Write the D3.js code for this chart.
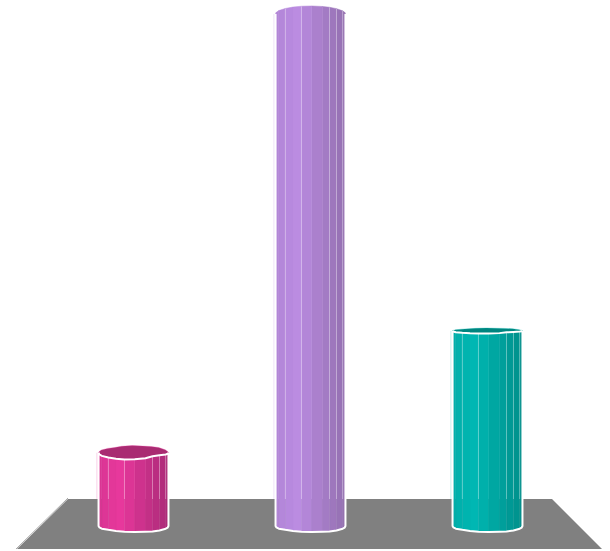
<!DOCTYPE html>
<html>
<head>
<meta charset="utf-8">
<style>
  html, body { margin: 0; padding: 0; background: #fff; }
  svg { display: block; }
</style>
</head>
<body>
<div id="container"></div>
<script src="https://cdn.jsdelivr.net/npm/d3@7"></script>
<script>
const categories = ["A", "B", "C"];
const values = [14.3, 100, 38.1];
const lightColors = ["#e8389c", "#bb8ce2", "#00b8b3"];
const darkColors = ["#ab2a78", "#9470b0", "#008f8b"];
const lidColors = ["#a92b72", "#9470b0", "#00857f"];

const w = 610;
const h = 551;

const xScale = d3.scaleBand().domain(categories).range([45, 576]).paddingInner(0.605).paddingOuter(0.3025);
const yScale = d3.scaleLinear().domain([0, 100]).range([526, 14]);

// facet edges round the front of each column, right to left
const faceAngles = [0, 12, 23, 42, 57, 70, 88, 105, 120, 136, 155, 168, 180];
const topWobble = [0.5, 0.7, 0.6, 0.55, 0.6, 0.85, 0.95, 1, 1, 1, 1.05, 1.1, 1];
const baseWobble = [1, 1.25, 1.15, 1.1, 1.08, 1.02, 1, 0.98, 0.95, 0.92, 1.05, 1.1, 1];
const backWobble = [1, 0.95, 1, 0.95, 0.9, 1, 1.05, 1, 1.05, 1.1, 1.05, 0.95, 1];
const seams = [2, 3, 4, 7, 9];

// perspective: how open a ring looks at a given height on the page
const ringHeight = y => {
  if (y > 500) return 6;
  return (y - 250) * 0.034;
};

const svg = d3.select("#container").append("svg").attr("width", w).attr("height", h);

// floor
const floorTop = 499;
const floorBottom = 549;
svg.append("path").
attr("d", d3.line()([[68, floorTop], [552, floorTop], [602, floorBottom], [17, floorBottom]]) + "Z").
attr("fill", "#808080");
svg.append("line").
attr("x1", 16).attr("y1", floorBottom).attr("x2", 68).attr("y2", floorTop - 1).
attr("stroke", "#aaa").attr("stroke-width", 1);

const line = d3.line();

categories.forEach((cat, i) => {
  const r = xScale.bandwidth() / 2;
  const cx = xScale(cat) + r;
  const topY = yScale(values[i]);
  const baseY = yScale(0);
  const topRy = ringHeight(topY);
  const baseRy = ringHeight(baseY);
  const shade = d3.scaleLinear().
  domain([1, -0.4, -1]).
  range([darkColors[i], lightColors[i], d3.interpolateRgb(lightColors[i], darkColors[i])(0.25)]);

  const g = svg.append("g");
  const point = (a, cy, ry, k) => {
    const rad = a * Math.PI / 180;
    return [cx + r * Math.cos(rad), cy + ry * Math.sin(rad) * k];
  };
  const topFront = faceAngles.map((a, j) => point(a, topY, topRy, topRy > 0 ? topWobble[j] : 1));
  const baseFront = faceAngles.map((a, j) => point(a, baseY, baseRy, baseWobble[j]));
  const topBack = faceAngles.map((a, j) => point(a + 180, topY, topRy, backWobble[j]));

  // faint edge left of the column
  g.append("line").
  attr("x1", cx - r - 1.5).attr("x2", cx - r - 1.5).
  attr("y1", topY).attr("y2", floorTop).
  attr("stroke", lightColors[i]).
  attr("stroke-opacity", 0.3);

  // lid, only seen on columns below eye level
  if (topRy > 0) {
    g.append("path").
    attr("d", line(topFront.concat(topBack)) + "Z").
    attr("fill", lidColors[i]).
    attr("stroke", lightColors[i]).
    attr("stroke-width", 1).
    attr("stroke-opacity", 0.3);
  }

  // side facets
  g.selectAll("path.face").
  data(faceAngles.slice(1)).
  enter().
  append("path").
  attr("class", "face").
  attr("d", (a, j) => line([topFront[j], topFront[j + 1], baseFront[j + 1], baseFront[j]]) + "Z").
  attr("fill", (a, j) => shade(Math.cos((a + faceAngles[j]) / 2 * Math.PI / 180))).
  attr("stroke", (a, j) => shade(Math.cos((a + faceAngles[j]) / 2 * Math.PI / 180))).
  attr("stroke-width", 0.5);

  // pale seams, stronger above the floor
  g.selectAll("line.seam").
  data(seams).
  enter().
  append("line").
  attr("class", "seam").
  attr("x1", j => topFront[j][0]).
  attr("x2", j => topFront[j][0]).
  attr("y1", j => topFront[j][1]).
  attr("y2", floorTop).
  attr("stroke", "#fff").
  attr("stroke-opacity", 0.35).
  attr("stroke-width", 1);
  g.selectAll("line.seamLow").
  data(seams).
  enter().
  append("line").
  attr("class", "seamLow").
  attr("x1", j => topFront[j][0]).
  attr("x2", j => topFront[j][0]).
  attr("y1", floorTop).
  attr("y2", j => baseFront[j][1]).
  attr("stroke", "#fff").
  attr("stroke-opacity", 0.07).
  attr("stroke-width", 1);

  // white outline
  const outline = topFront.slice(0, 1).concat(baseFront, topFront.slice(-1));
  g.append("path").
  attr("d", line(outline)).
  attr("fill", "none").
  attr("stroke", "#fff").
  attr("stroke-width", 2).
  attr("stroke-linejoin", "round");
  if (topRy > 0) {
    g.append("path").
    attr("d", line(topFront)).
    attr("fill", "none").
    attr("stroke", "#fff").
    attr("stroke-width", 2);
  }
});
</script>
</body>
</html>
